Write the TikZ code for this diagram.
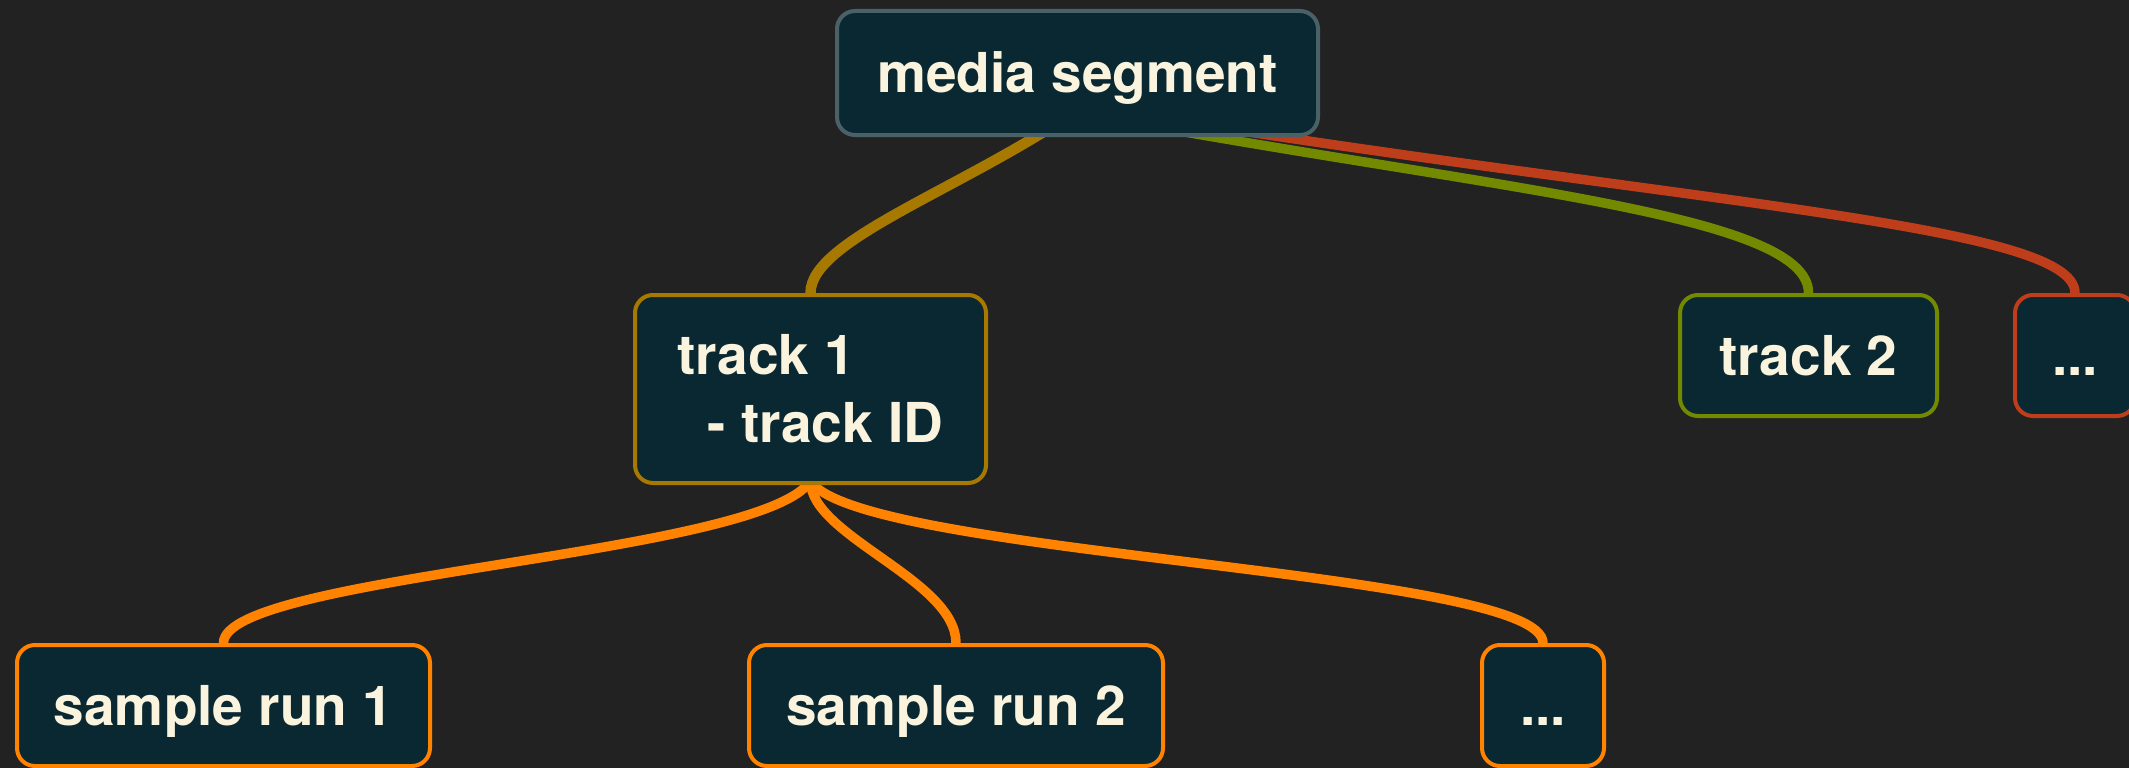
\documentclass[tikz,border=0pt]{standalone}
\usepackage{fontspec}
\setmainfont{TeX Gyre Heros}
\usetikzlibrary{calc}
\definecolor{bg}{HTML}{222222}
\definecolor{boxfill}{HTML}{092832}
\definecolor{txt}{HTML}{FAF3DD}
\definecolor{segborder}{HTML}{4B6168}
\definecolor{gold}{HTML}{A87900}
\definecolor{grn}{HTML}{738A00}
\definecolor{rust}{HTML}{BE3D1A}
\definecolor{org}{HTML}{FF8200}
\pgfdeclarelayer{background}
\pgfsetlayers{background,main}
\begin{document}
\begin{tikzpicture}[x=1pt,y=-1pt,
  box/.style={draw, line width=4pt, fill=boxfill, rounded corners=18pt,
    inner sep=0pt, text=txt, font=\fontsize{55pt}{68pt}\selectfont\bfseries},
  oneline/.style={text height=39pt, text depth=0pt},
  link/.style={line width=#1, line cap=round}]
\useasboundingbox (0,0) rectangle (2129,768);
\clip (0,0) rectangle (2129,768);

\node[box, oneline, draw=segborder, minimum width=481pt, minimum height=124pt] (seg) at (1077.5,73) {media segment};
\node[box, draw=gold, minimum width=351pt, minimum height=188pt, align=left] (t1) at (810.5,389) {track 1\\\hspace*{30pt}- track ID};
\node[box, oneline, draw=grn, minimum width=257pt, minimum height=121pt] (t2) at (1808.5,355.5) {track 2};
\node[box, oneline, draw=rust, minimum width=120pt, minimum height=121pt] (tm) at (2075,355.5) {...};
\node[box, oneline, draw=org, minimum width=413pt, minimum height=121pt] (s1) at (223.5,705.5) {sample run 1};
\node[box, oneline, draw=org, minimum width=414pt, minimum height=121pt] (s2) at (956,705.5) {sample run 2};
\node[box, oneline, draw=org, minimum width=122pt, minimum height=121pt] (sm) at (1543,705.5) {...};

\begin{pgfonlayer}{background}
\fill[bg] (0,0) rectangle (2129,768);
\draw[link=10.5pt, gold] ($(seg.center)+(0,37)$) .. controls +(-117,80) and +(0,-53) .. (t1.north);
\draw[link=9.5pt, rust] ($(seg.center)+(62,42)$) .. controls +(560,90) and +(0,-68) .. (tm.north);
\draw[link=9.5pt, grn] ($(seg.center)+(40,47)$) .. controls +(383,70) and +(0,-78) .. (t2.north);
\draw[link=9.5pt, org] ($(t1.south)+(0,-4)$) .. controls +(-50,75) and +(0,-68) .. (s1.north);
\draw[link=9.5pt, org] ($(t1.south)+(0,-4)$) .. controls +(0,55) and +(0,-63) .. (s2.north);
\draw[link=9.5pt, org] ($(t1.south)+(0,-4)$) .. controls +(48,75) and +(0,-73) .. (sm.north);
\end{pgfonlayer}
\end{tikzpicture}
\end{document}
